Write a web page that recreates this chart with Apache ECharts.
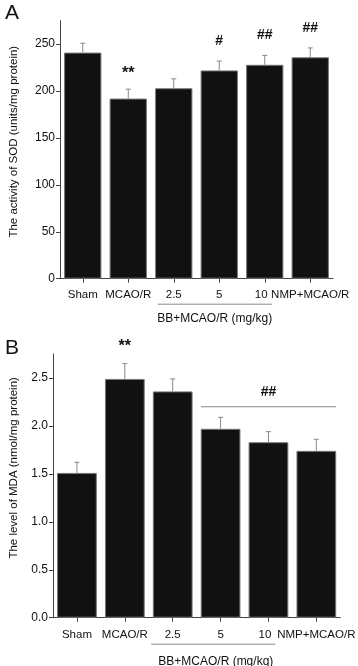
<!DOCTYPE html>
<html><head><meta charset="utf-8">
<script src="https://cdn.jsdelivr.net/npm/echarts@6/dist/echarts.min.js"></script>
<style>html,body{margin:0;padding:0;background:#fff}#c{width:358px;height:666px}</style>
</head><body><div id="c"></div>
<script>
const categories = ['Sham', 'MCAO/R', '2.5', '5', '10', 'NMP+MCAO/R'];
const sodMean = [241, 192, 203, 222, 228, 236];
const sodErr = [10, 10, 10, 10, 10, 10];
const sodMarks = ['', '**', '', '#', '##', '##'];
const sodTicks = [0, 50, 100, 150, 200, 250];
const mdaMean = [1.51, 2.49, 2.36, 1.97, 1.83, 1.74];
const mdaErr = [0.11, 0.16, 0.13, 0.12, 0.11, 0.12];
const mdaMarks = ['', '**', '', '', '', ''];
const mdaTicks = [0, 0.5, 1.0, 1.5, 2.0, 2.5];
const groupLabel = 'BB+MCAO/R (mg/kg)';
const groupRange = [2, 4];
const bracketRange = [3, 5];
const bracketValue = 2.2;
const bracketMark = '##';

const FONT = 'Liberation Sans, Arial, sans-serif';
const AX = '#444';
const chart = echarts.init(document.getElementById('c'), null, {renderer: 'canvas'});

function yAxis(gi, max, ticks, name, pad, gap, fmt) {
  return {
    gridIndex: gi, type: 'value', min: 0, max: max,
    name: name, nameLocation: 'middle', nameGap: gap, nameRotate: 90,
    nameTextStyle: {fontFamily: FONT, fontSize: 11.5, color: '#111', padding: pad},
    axisLine: {show: true, lineStyle: {color: AX, width: 1}},
    axisTick: {show: true, length: 4, inside: false, customValues: ticks, lineStyle: {color: AX}},
    axisLabel: {customValues: ticks, fontFamily: FONT, fontSize: 12, color: '#111', margin: 5, formatter: fmt},
    splitLine: {show: false}
  };
}
function xAxis(gi, margin) {
  return {
    gridIndex: gi, type: 'category', data: categories,
    axisLine: {show: true, lineStyle: {color: AX, width: 1}},
    axisTick: {show: true, alignWithLabel: true, length: 4, lineStyle: {color: AX}},
    axisLabel: {interval: 0, hideOverlap: false, fontFamily: FONT, fontSize: 11.5, color: '#111', margin: margin,
      formatter: v => v === '10' ? '{s|' + v + '}' : v,
      rich: {s: {fontFamily: FONT, fontSize: 11.5, color: '#111', padding: [0, 7, 0, 0]}}}
  };
}
function errSeries(idx, mean, err, marks, markOff) {
  return {
    type: 'custom', xAxisIndex: idx, yAxisIndex: idx, z: 3,
    data: mean.map((m, i) => [i, m, err[i]]),
    renderItem: function (params, api) {
      const i = api.value(0), m = api.value(1), e = api.value(2);
      const p0 = api.coord([i, m]);
      const p1 = api.coord([i, m + e]);
      const mark = marks[i];
      const children = [
        {type: 'line', shape: {x1: p0[0], y1: p0[1], x2: p1[0], y2: p1[1]}, style: {stroke: '#888', lineWidth: 1}},
        {type: 'line', shape: {x1: p1[0] - 2.5, y1: p1[1], x2: p1[0] + 2.5, y2: p1[1]}, style: {stroke: '#888', lineWidth: 1}}
      ];
      if (mark) {
        const isStar = mark.indexOf('*') >= 0;
        children.push({type: 'text', style: {text: mark, x: p1[0], y: p1[1] - markOff[isStar ? 0 : 1],
          align: 'center', verticalAlign: 'middle', fontFamily: FONT, fontSize: isStar ? 16 : 14,
          fontWeight: 'bold', fill: '#111'}});
      }
      return {type: 'group', children: children};
    }
  };
}
function groupSeries(idx, lineOff, textOff, l, r) {
  return {
    type: 'custom', xAxisIndex: idx, yAxisIndex: idx, z: 3,
    data: [[groupRange[0], groupRange[1]]],
    renderItem: function (params, api) {
      const a = api.coord([api.value(0), 0]);
      const b = api.coord([api.value(1), 0]);
      const bw = api.size([1, 0])[0];
      const x1 = a[0] + l * bw, x2 = b[0] + r * bw;
      return {type: 'group', children: [
        {type: 'line', shape: {x1: x1, y1: a[1] + lineOff, x2: x2, y2: a[1] + lineOff}, style: {stroke: '#888', lineWidth: 1}},
        {type: 'text', style: {text: groupLabel, x: (a[0] + b[0]) / 2 - 0.1 * bw, y: a[1] + textOff, align: 'center', verticalAlign: 'middle',
          fontFamily: FONT, fontSize: 12, fill: '#111'}}
      ]};
    }
  };
}

chart.setOption({
  animation: false,
  title: [
    {text: 'A', left: 0, top: -2, textStyle: {fontFamily: FONT, fontSize: 21, fontWeight: 'normal', color: '#111'}},
    {text: 'B', left: 0, top: 333, textStyle: {fontFamily: FONT, fontSize: 21, fontWeight: 'normal', color: '#111'}}
  ],
  grid: [
    {left: 51, right: 25, top: 20.7, bottom: 387.3},
    {left: 50, right: 15, top: 354, bottom: 48.3}
  ],
  xAxis: [xAxis(0, 10), xAxis(1, 11)],
  yAxis: [
    yAxis(0, 275, sodTicks, 'The activity of SOD (units/mg protein)', [0, 0, 0, 16], 40, v => String(v)),
    yAxis(1, 2.75, mdaTicks, 'The level of MDA (nmol/mg protein)', [0, 0, 0, 36], 33, v => v.toFixed(1))
  ],
  series: [
    {type: 'bar', xAxisIndex: 0, yAxisIndex: 0, data: sodMean, barWidth: '82%',
      itemStyle: {color: '#111', borderColor: '#777', borderWidth: 1}},
    {type: 'bar', xAxisIndex: 1, yAxisIndex: 1, data: mdaMean, barWidth: '83%',
      itemStyle: {color: '#111', borderColor: '#777', borderWidth: 1}},
    errSeries(0, sodMean, sodErr, sodMarks, [16, 20]),
    errSeries(1, mdaMean, mdaErr, mdaMarks, [17, 21]),
    groupSeries(0, 25.5, 40, -0.35, 0.16),
    groupSeries(1, 26.5, 44, -0.45, 0.14),
    {
      type: 'custom', xAxisIndex: 1, yAxisIndex: 1, z: 3,
      data: [[bracketRange[0], bracketRange[1], bracketValue]],
      renderItem: function (params, api) {
        const bw = api.size([1, 0])[0];
        const a = api.coord([api.value(0), api.value(2)]);
        const b = api.coord([api.value(1), api.value(2)]);
        const x1 = a[0] - 0.41 * bw, x2 = b[0] + 0.41 * bw;
        return {type: 'group', children: [
          {type: 'line', shape: {x1: x1, y1: a[1], x2: x2, y2: a[1]}, style: {stroke: '#888', lineWidth: 1}},
          {type: 'text', style: {text: bracketMark, x: (a[0] + b[0]) / 2, y: a[1] - 15, align: 'center', verticalAlign: 'middle',
            fontFamily: FONT, fontSize: 14, fontWeight: 'bold', fill: '#111'}}
        ]};
      }
    }
  ]
});
</script></body></html>
